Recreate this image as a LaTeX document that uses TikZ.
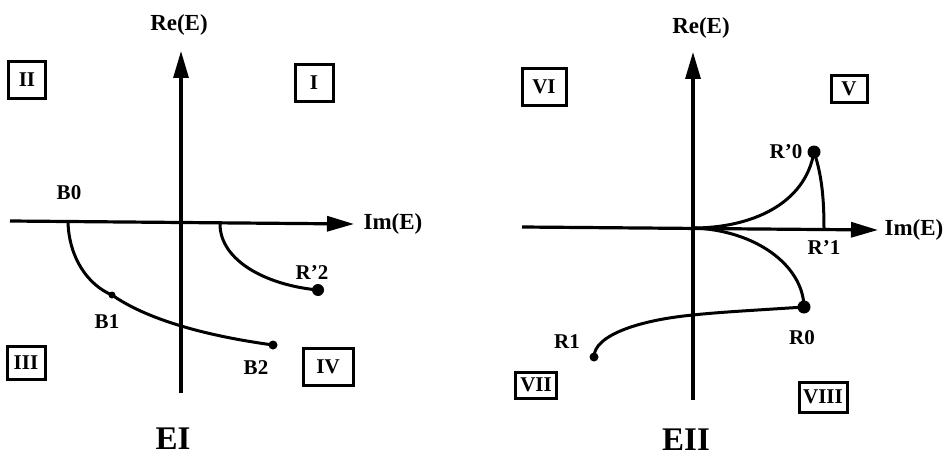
\documentclass[tikz,border=0pt]{standalone}
\usepackage{fontspec}
\setmainfont{Liberation Serif}
\usetikzlibrary{arrows.meta}
\begin{document}
\begin{tikzpicture}[x=1pt,y=-1pt,
  axis/.style={line width=3.2pt,-{Triangle[length=27pt,width=15pt]}},
  curve/.style={line width=3pt},
  lbl/.style={font=\bfseries\fontsize{23}{23}\selectfont,inner sep=0pt},
  pt/.style={font=\bfseries\fontsize{21}{21}\selectfont,inner sep=0pt},
  rbox/.style={draw,line width=3pt,font=\bfseries\fontsize{21}{21}\selectfont,inner sep=0pt},
  title/.style={font=\bfseries\fontsize{33}{33}\selectfont,inner sep=0pt},
  dot/.style={circle,fill,inner sep=0pt}]
\useasboundingbox (0,0) rectangle (948,460);
% ---------- left panel ----------
\coordinate (lyb) at (181,393);
\coordinate (lyt) at (181,51);
\coordinate (lxl) at (10,221);
\coordinate (lxr) at (354,224);
\draw[axis] (lyb) -- (lyt);
\draw[axis] (lxl) -- (lxr);
\node[lbl] (reL) at (179,25) {Re(E)};
\node[lbl] (imL) at (393,224) {Im(E)};
\node[rbox,minimum width=37pt,minimum height=37pt] (bII) at (27,80) {II};
\node[rbox,minimum width=38pt,minimum height=37pt] (bI) at (314,83) {I};
\node[rbox,minimum width=38pt,minimum height=33pt] (bIII) at (26,363) {III};
\node[rbox,minimum width=50pt,minimum height=37pt] (bIV) at (328,367) {IV};
\node[pt] (lB0) at (69,193) {B0};
\node[pt] (lB1) at (107,322) {B1};
\node[pt] (lB2) at (256,368) {B2};
\node[pt] (lR2) at (312,273) {R'2};
\node[title] (EI) at (173,439) {EI};
\coordinate (B0) at (68,222);
\node[dot,minimum size=7pt] (B1) at (112,295) {};
\node[dot,minimum size=9pt] (B2) at (273,345) {};
\coordinate (R2s) at (220,224);
\node[dot,minimum size=12pt] (R2) at (318,290) {};
\draw[curve] (B0) .. controls (69,258) and (88,285) .. (B1.center)
  .. controls (145,318) and (200,335) .. (B2.center);
\draw[curve] (R2s) .. controls (220,260) and (265,285) .. (R2.center);
% ---------- right panel ----------
\coordinate (ryb) at (693,400);
\coordinate (ryt) at (693,52);
\coordinate (rxl) at (522,227);
\coordinate (rxr) at (878,230);
\draw[axis] (ryb) -- (ryt);
\draw[axis] (rxl) -- (rxr);
\node[lbl] (reR) at (701,28) {Re(E)};
\node[lbl] (imR) at (914,230) {Im(E)};
\node[rbox,minimum width=44pt,minimum height=37pt] (bVI) at (544,87) {VI};
\node[rbox,minimum width=36pt,minimum height=26pt] (bV) at (849,89) {V};
\node[rbox,minimum width=41pt,minimum height=26pt] (bVII) at (536,385) {VII};
\node[rbox,minimum width=48pt,minimum height=30pt] (bVIII) at (823,397) {VIII};
\node[pt] (lRp0) at (786,152) {R'0};
\node[pt] (lRp1) at (824,248) {R'1};
\node[pt] (lR0) at (802,338) {R0};
\node[pt] (lR1) at (567,342) {R1};
\node[title] (EII) at (686,440) {EII};
\coordinate (O) at (693,228);
\node[dot,minimum size=13pt] (Rp0) at (814,152) {};
\coordinate (Rp1) at (824,229);
\node[dot,minimum size=13pt] (R0) at (804,307) {};
\node[dot,minimum size=9pt] (R1) at (594,357) {};
\draw[curve] (O) .. controls (750,228) and (805,205) .. (Rp0.center);
\draw[curve] (Rp0.center) .. controls (822,175) and (824,200) .. (Rp1);
\draw[curve] (O) .. controls (755,230) and (803,265) .. (R0.center);
\draw[curve] (R0.center) .. controls (760,310) and (720,312) .. (693,315)
  .. controls (640,320) and (594,335) .. (R1.center);
\end{tikzpicture}
\end{document}
